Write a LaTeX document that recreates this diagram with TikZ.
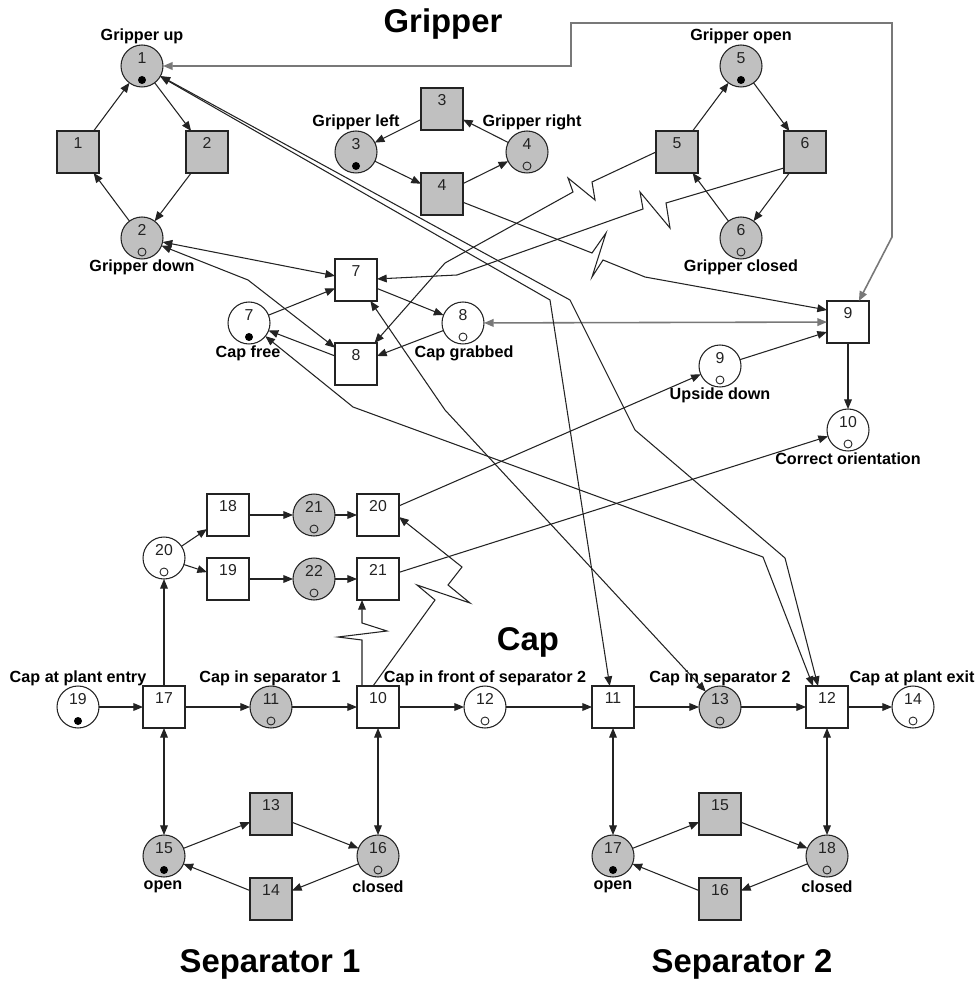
\documentclass[tikz,border=0pt]{standalone}
\usepackage{fontspec}
\setmainfont{Liberation Sans}
\usetikzlibrary{arrows.meta}
\definecolor{netfill}{RGB}{192,192,192}
\definecolor{netline}{RGB}{35,35,35}
\definecolor{readline}{RGB}{120,120,120}

% place: name, position, number, fill style, token style
\newcommand\netplace[5]{%
  \node[netpl,#4] (#1) at (#2) {};
  \node[netnum] (#1n) at ([yshift=0.16cm]#1.center) {#3};
  \node[#5] (#1t) at ([yshift=-0.28cm]#1.center) {};
}
% transition: name, position, number, fill style
\newcommand\nettrans[4]{%
  \node[nettr,#4] (#1) at (#2) {};
  \node[netnum] (#1n) at ([yshift=0.18cm]#1.center) {#3};
}

\begin{document}
\begin{tikzpicture}[x=0.02cm,y=-0.02cm,
  every node/.style={inner sep=0pt,outer sep=0pt},
  netpl/.style={circle,draw=netline,line width=0.6pt,minimum size=0.84cm},
  nettr/.style={rectangle,draw=netline,line width=0.6pt,minimum size=0.84cm},
  grey/.style={fill=netfill},
  blank/.style={fill=white},
  tokfull/.style={circle,fill=black,minimum size=0.16cm},
  tokempty/.style={circle,draw=netline,line width=0.5pt,minimum size=0.16cm},
  netnum/.style={font=\fontsize{9}{10}\selectfont,text=netline},
  netlab/.style={font=\fontsize{9.2}{11}\selectfont\bfseries},
  nettitle/.style={font=\fontsize{18.7}{22}\selectfont\bfseries},
  >={Triangle[length=5.5pt,width=4.4pt]},
  netarc/.style={draw=netline,line width=0.6pt,->},
  botharc/.style={draw=netline,line width=0.6pt,<->},
  readarc/.style={draw=readline,line width=0.9pt,<->},
]
\fill[white] (0,0) rectangle (978,982);
\useasboundingbox (0,0) rectangle (978,982);

% ---------- Gripper ----------
\netplace{P1}{142,66}{1}{grey}{tokfull}
\netplace{P2}{142,238}{2}{grey}{tokempty}
\netplace{P3}{356,152}{3}{grey}{tokfull}
\netplace{P4}{527,152}{4}{grey}{tokempty}
\netplace{P5}{741,66}{5}{grey}{tokfull}
\netplace{P6}{741,238}{6}{grey}{tokempty}
\netplace{P7}{249,323}{7}{blank}{tokfull}
\netplace{P8}{463,323}{8}{blank}{tokempty}
\netplace{P9}{720,366}{9}{blank}{tokempty}
\netplace{P10}{848,430}{10}{blank}{tokempty}

\nettrans{T1}{78,152}{1}{grey}
\nettrans{T2}{207,152}{2}{grey}
\nettrans{T3}{442,109}{3}{grey}
\nettrans{T4}{442,194}{4}{grey}
\nettrans{T5}{677,152}{5}{grey}
\nettrans{T6}{805,152}{6}{grey}
\nettrans{T7}{356,280}{7}{blank}
\nettrans{T8}{356,364}{8}{blank}
\nettrans{T9}{848,322}{9}{blank}

% ---------- Cap ----------
\netplace{P19}{78,707}{19}{blank}{tokfull}
\netplace{P11}{271,707}{11}{grey}{tokempty}
\netplace{P12}{485,707}{12}{blank}{tokempty}
\netplace{P13}{720,707}{13}{grey}{tokempty}
\netplace{P14}{913,707}{14}{blank}{tokempty}
\netplace{P20}{164,558}{20}{blank}{tokempty}
\netplace{P21}{314,515}{21}{grey}{tokempty}
\netplace{P22}{314,579}{22}{grey}{tokempty}

\nettrans{T17}{164,707}{17}{blank}
\nettrans{T10}{378,707}{10}{blank}
\nettrans{T11}{613,707}{11}{blank}
\nettrans{T12}{827,707}{12}{blank}
\nettrans{T18}{228,515}{18}{blank}
\nettrans{T19}{228,579}{19}{blank}
\nettrans{T20}{378,515}{20}{blank}
\nettrans{T21}{378,579}{21}{blank}

% ---------- Separators ----------
\netplace{P15}{164,856}{15}{grey}{tokfull}
\netplace{P16}{378,856}{16}{grey}{tokempty}
\netplace{P17}{613,856}{17}{grey}{tokfull}
\netplace{P18}{827,856}{18}{grey}{tokempty}
\nettrans{T13}{271,814}{13}{grey}
\nettrans{T14}{271,899}{14}{grey}
\nettrans{T15}{720,814}{15}{grey}
\nettrans{T16}{720,899}{16}{grey}

% ---------- labels ----------
\node[nettitle] (hGrip) at (443,24) {Gripper};
\node[nettitle] (hCap) at (528,642) {Cap};
\node[nettitle] (hSep1) at (270,964) {Separator 1};
\node[nettitle] (hSep2) at (742,964) {Separator 2};

\node[netlab] (l1) at (142,36) {Gripper up};
\node[netlab] (l2) at (142,267) {Gripper down};
\node[netlab] (l3) at (356,122) {Gripper left};
\node[netlab] (l4) at (532,122) {Gripper right};
\node[netlab] (l5) at (741,36) {Gripper open};
\node[netlab] (l6) at (741,267) {Gripper closed};
\node[netlab] (l7) at (248,353) {Cap free};
\node[netlab] (l8) at (464,353) {Cap grabbed};
\node[netlab] (l9) at (720,395) {Upside down};
\node[netlab] (l10) at (848,459) {Correct orientation};
\node[netlab] (l19) at (78,678) {Cap at plant entry};
\node[netlab] (l11) at (270,678) {Cap in separator 1};
\node[netlab] (l12) at (485,678) {Cap in front of separator 2};
\node[netlab] (l13) at (720,678) {Cap in separator 2};
\node[netlab] (l14) at (912,678) {Cap at plant exit};
\node[netlab] (l15) at (163,887) {open};
\node[netlab] (l16) at (378,887) {closed};
\node[netlab] (l17) at (613,887) {open};
\node[netlab] (l18) at (827,887) {closed};

% ---------- gripper cycles ----------
\draw[netarc] (T1) -- (P1);
\draw[netarc] (P1) -- (T2);
\draw[netarc] (T2) -- (P2);
\draw[netarc] (P2) -- (T1);
\draw[netarc] (T3) -- (P3);
\draw[netarc] (P3) -- (T4);
\draw[netarc] (T4) -- (P4);
\draw[netarc] (P4) -- (T3);
\draw[netarc] (T5) -- (P5);
\draw[netarc] (P5) -- (T6);
\draw[netarc] (T6) -- (P6);
\draw[netarc] (P6) -- (T5);

% ---------- cap handling ----------
\draw[netarc] (P7) -- (T7);
\draw[netarc] (T7) -- (P8);
\draw[netarc] (P8) -- (T8);
\draw[netarc] (T8) -- (P7);
\draw[netarc] (P9) -- ([yshift=-0.2cm]T9.west);
\draw[netarc] (T9) -- (P10);
\draw[botharc] (P2) -- (T7);
\draw[botharc] (P2) -- (248,280) -- (T8);
\draw[readarc] (P8) -- (T9);
\draw[readarc] (P1) -- (571,66) -- (571,23) -- (892,23) -- (892,237) -- (T9);

% event arcs with interruption marks
\draw[netarc] ([yshift=0.1cm]T6.south west) -- (666,203) -- (670,228) -- (640,192)
  -- (643,209) -- (457,275) -- (T7);
\draw[netarc] (T5.west) -- (592,182) -- (595,200) -- (568,178) -- (573,192)
  -- (445,263) -- (T8);
\draw[netarc] (T4) -- (592,253) -- (606,233) -- (592,277) -- (603,260)
  -- (645,277) -- ([yshift=0.24cm]T9.west);
\draw[netarc] ([xshift=-0.1cm]T10.north) -- (435,600) -- (417,585) -- (470,603)
  -- (448,585) -- (462,567) -- ([yshift=-0.04cm]T20.east);
\draw[netarc] ([xshift=-0.32cm]T10.north) -- (362,640) -- (338,637) -- (387,631)
  -- (362,623) -- ([xshift=-0.32cm]T21.south);

% long condition arcs
\draw[botharc] (P1) -- (550,300) -- (T11);
\draw[botharc] (P1) -- (570,300) -- (635,430) -- (785,558) -- ([xshift=-0.18cm]T12.north);
\draw[botharc] (P7) -- (353,407) -- (763,557) -- ([xshift=-0.28cm]T12.north);
\draw[botharc] (T7) -- (445,410) -- (P13);
\draw[netarc] (T20) -- (P9);
\draw[netarc] (T21) -- (P10);

% ---------- cap flow ----------
\draw[netarc] (P19) -- (T17);
\draw[netarc] (T17) -- (P11);
\draw[netarc] (P11) -- (T10);
\draw[netarc] (T10) -- (P12);
\draw[netarc] (P12) -- (T11);
\draw[netarc] (T11) -- (P13);
\draw[netarc] (P13) -- (T12);
\draw[netarc] (T12) -- (P14);
\draw[netarc] (T17) -- (P20);
\draw[netarc] (P20) -- (T18);
\draw[netarc] (P20) -- (T19);
\draw[netarc] (T18) -- (P21);
\draw[netarc] (P21) -- (T20);
\draw[netarc] (T19) -- (P22);
\draw[netarc] (P22) -- (T21);

% ---------- separators ----------
\draw[botharc] (T17) -- (P15);
\draw[botharc] (T10) -- (P16);
\draw[botharc] (T11) -- (P17);
\draw[botharc] (T12) -- (P18);
\draw[netarc] (P15) -- (T13);
\draw[netarc] (T13) -- (P16);
\draw[netarc] (P16) -- (T14);
\draw[netarc] (T14) -- (P15);
\draw[netarc] (P17) -- (T15);
\draw[netarc] (T15) -- (P18);
\draw[netarc] (P18) -- (T16);
\draw[netarc] (T16) -- (P17);
\end{tikzpicture}
\end{document}
